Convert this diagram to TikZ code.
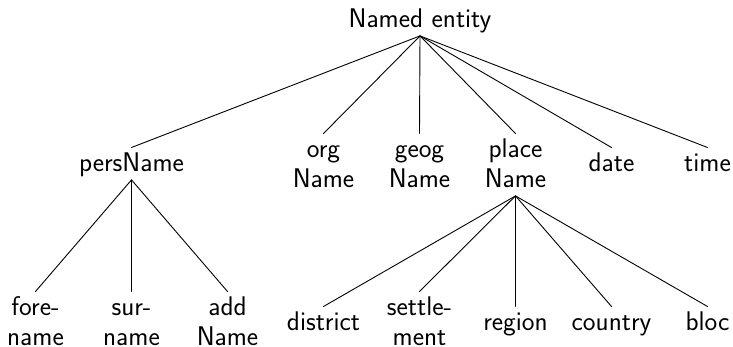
\documentclass[tikz,border=0pt]{standalone}
\usepackage{fontspec}
\newcommand\ts{\rule{0pt}{23.5pt}}
\newcommand\bs{\rule[-8.5pt]{0pt}{8.5pt}}
\tikzset{
  tn/.style={anchor=north, inner xsep=2pt, inner ysep=0pt, align=center,
    font=\sffamily\fontsize{27}{30}\selectfont},
  edge/.style={line width=0.9pt, line cap=round}
}
\begin{document}
\begin{tikzpicture}[x=1pt,y=1pt]
\useasboundingbox (0,0) rectangle (733,-347);
% root
\node[tn] (root) at (420,-3.5) {\ts Named entity\bs};
% level 1
\node[tn] (pers)  at (131.5,-147.5) {\ts persName\bs};
\node[tn] (org)   at (323.5,-133.5) {\ts org\\Name};
\node[tn] (geog)  at (419.5,-133.5) {\ts geog\\Name};
\node[tn] (place) at (515.5,-133.5) {\ts place\\Name\bs};
\node[tn] (date)  at (611.5,-147.5) {\ts date};
\node[tn] (time)  at (707.5,-147.5) {\ts time};
% level 2
\node[tn] (fore)    at (35.5,-291.5)  {\ts fore-\\name};
\node[tn] (sur)     at (131.5,-291.5) {\ts sur-\\name};
\node[tn] (add)     at (227.5,-291.5) {\ts add\\Name};
\node[tn] (district) at (323.5,-306.5) {\ts district};
\node[tn] (settle)  at (419.5,-291.5) {\ts settle-\\ment};
\node[tn] (region)  at (515.5,-306.5) {\ts region};
\node[tn] (country) at (611.5,-306.5) {\ts country};
\node[tn] (bloc)    at (707.5,-306.5) {\ts bloc};
% edges
\foreach \c in {pers,org,geog,place,date,time}
  \draw[edge] (root.south) -- (\c.north);
\foreach \c in {fore,sur,add}
  \draw[edge] (pers.south) -- (\c.north);
\foreach \c in {district,settle,region,country,bloc}
  \draw[edge] (place.south) -- (\c.north);
\end{tikzpicture}
\end{document}
